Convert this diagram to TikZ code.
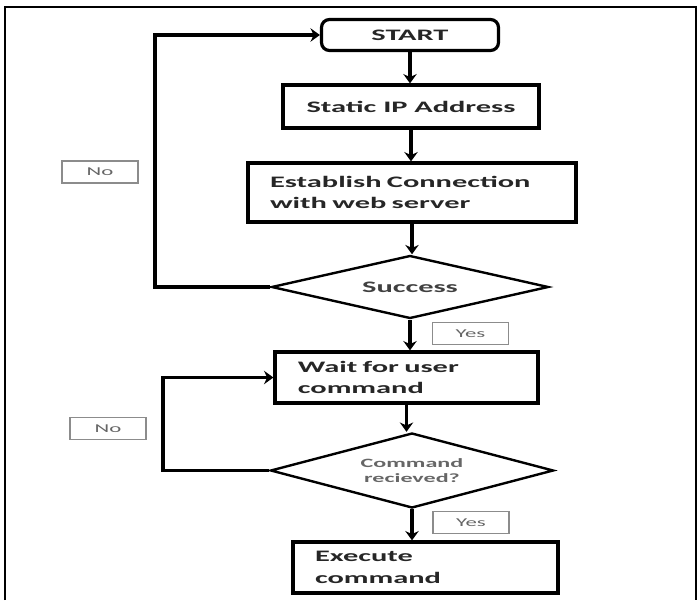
\documentclass[tikz,border=0pt]{standalone}
\usepackage{fontspec}
\setmainfont{Carlito}[FakeStretch=1.9]
\usetikzlibrary{calc, positioning}
\usetikzlibrary{arrows.meta}
\usetikzlibrary{shapes.geometric}

\begin{document}
\begin{tikzpicture}[x=0.75pt,y=-0.75pt,
	box/.style={draw, line width=2.4pt, inner sep=0pt, font=\bfseries\fontsize{12}{16}\selectfont, text=black!85},
	decision/.style={draw, diamond, aspect=4, line width=1.8pt, inner sep=0pt, align=center},
	tag/.style={draw=black!45, line width=0.8pt, inner sep=0pt, minimum width=57pt, minimum height=16.5pt, font=\fontsize{9}{10}\selectfont, text=black!60},
	flow/.style={line width=2.4pt, -{Stealth[length=7pt,width=10pt]}}]
	\useasboundingbox (0,0) rectangle (699,600);
	\draw[line width=1.6pt] (5,600) -- (5,7) -- (696,7) -- (696,600);
	
	\node[box, rounded corners=6pt, minimum width=132.75pt, minimum height=23.25pt] (start) at (410,35) {START};
	\node[box, minimum width=192pt, minimum height=32.25pt] (static) at (411,106.5) {Static IP Address};
	\node[box, minimum width=246pt, minimum height=44.25pt, inner xsep=16.5pt, text width=213pt, align=left] (connect) at (412,192.5) {Establish Connection\\with web server};
	\node[decision, minimum width=207.75pt, minimum height=47.25pt, font=\bfseries\fontsize{12}{14}\selectfont, text=black!75] (success) at (410,287) {Success};
	\node[box, minimum width=197.25pt, minimum height=38.25pt, inner xsep=17pt, text width=163pt, align=left] (wait) at (406.5,377.5) {Wait for user\\command};
	\node[decision, minimum width=212.25pt, minimum height=56.25pt, font=\bfseries\fontsize{9.5}{11}\selectfont, text=black!60] (received) at (412,470.5) {Command\\recieved?};
	\node[box, minimum width=198.75pt, minimum height=38.25pt, inner xsep=16.5pt, text width=165.75pt, align=left] (execute) at (425.5,567.5) {Execute\\command};
	
	\node[tag] (yesa) at (470.5,333.5) {Yes};
	\node[tag] (yesb) at (471,522.5) {Yes};
	\node[tag] (noa) at (100,172) {No};
	\node[tag] (nob) at (108,428.5) {No};
	
	\draw[flow] (start.south) -- (start.south |- static.north);
	\draw[flow] (static.south) -- (static.south |- connect.north);
	\draw[flow] (connect.south) -- (connect.south |- success.north);
	\draw[flow] (success.south) -- (success.south |- wait.north);
	\draw[flow] (wait.south) -- (wait.south |- received.north);
	\draw[flow] (received.south) -- (received.south |- execute.north);
	
	% back to start / wait
	\coordinate (backa) at (155,0);
	\coordinate (backb) at (163,0);
	\draw[flow] (success.west) -- (success.west -| backa) |- (start.west);
	\draw[flow] (received.west) -- (received.west -| backb) |- (wait.west);
\end{tikzpicture}
\end{document}
